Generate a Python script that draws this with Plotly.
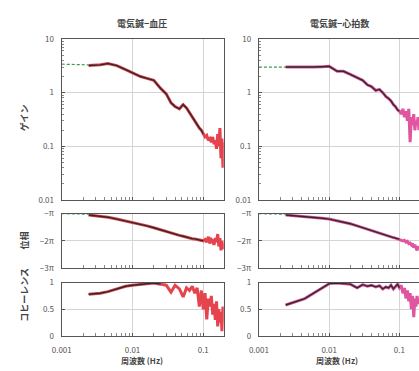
import plotly.graph_objects as go
import math

# ---------------- data ----------------
freq = [0.0024, 0.0035, 0.0045, 0.006, 0.008, 0.01, 0.013, 0.016, 0.02, 0.025,
        0.03, 0.035, 0.04, 0.046, 0.052, 0.058, 0.064, 0.07, 0.076, 0.082,
        0.088, 0.094, 0.1, 0.106, 0.112, 0.118, 0.124, 0.13, 0.136, 0.142,
        0.148, 0.154, 0.16, 0.166, 0.172, 0.178, 0.184, 0.19, 0.195]

bp_gain = [3.2, 3.3, 3.5, 3.2, 2.7, 2.35, 2.0, 1.85, 1.7, 1.2,
           0.95, 0.65, 0.55, 0.5, 0.6, 0.52, 0.42, 0.36, 0.3, 0.25,
           0.22, 0.2, 0.17, 0.15, 0.16, 0.13, 0.14, 0.12, 0.15, 0.11,
           0.13, 0.09, 0.17, 0.1, 0.22, 0.06, 0.14, 0.04, 0.12]
bp_phase = [-1.05, -1.1, -1.13, -1.2, -1.27, -1.32, -1.38, -1.45, -1.52, -1.6,
            -1.67, -1.72, -1.76, -1.8, -1.83, -1.87, -1.9, -1.92, -1.93, -1.95,
            -1.97, -1.98, -2.0, -1.95, -2.05, -1.85, -2.1, -1.95, -2.0, -2.15,
            -1.9, -2.05, -1.75, -2.2, -1.9, -2.35, -2.0, -2.3, -2.1]
bp_coh = [0.78, 0.8, 0.83, 0.88, 0.93, 0.95, 0.97, 0.98, 0.99, 0.97,
          0.95, 0.82, 0.95, 0.88, 0.73, 0.9, 0.85, 0.93, 0.8, 0.9,
          0.55, 0.85, 0.5, 0.8, 0.31, 0.7, 0.55, 0.75, 0.4, 0.6,
          0.3, 0.65, 0.18, 0.5, 0.25, 0.45, 0.09, 0.55, 0.35]

hr_gain = [3.0, 3.0, 2.95, 3.0, 3.05, 3.1, 2.5, 2.5, 2.2, 1.9,
           1.7, 1.4, 1.3, 1.1, 1.15, 1.0, 0.85, 0.78, 0.7, 0.6,
           0.55, 0.48, 0.45, 0.4, 0.5, 0.35, 0.45, 0.3, 0.5, 0.12,
           0.35, 0.25, 0.4, 0.2, 0.3, 0.25, 0.35, 0.2, 0.3]
hr_phase = [-1.05, -1.08, -1.1, -1.13, -1.17, -1.2, -1.26, -1.3, -1.37, -1.45,
            -1.52, -1.58, -1.62, -1.67, -1.71, -1.75, -1.79, -1.82, -1.85, -1.88,
            -1.9, -1.92, -1.94, -1.97, -2.0, -1.98, -2.05, -2.02, -2.1, -2.08,
            -2.15, -2.1, -2.25, -2.15, -2.3, -2.35, -2.2, -2.3, -2.25]
hr_coh = [0.58, 0.65, 0.7, 0.8, 0.9, 0.98, 0.99, 0.98, 0.97, 0.9,
          0.96, 0.93, 0.95, 0.92, 0.94, 0.88, 0.92, 0.9, 0.95, 0.88,
          0.92, 0.97, 0.9, 0.95, 0.8, 0.9, 0.7, 0.85, 0.65, 0.8,
          0.5, 0.75, 0.35, 0.7, 0.55, 0.75, 0.6, 0.7, 0.65]

ext_freq = [0.001, 0.0024]
bp_gain_ext = [3.4, 3.3]
hr_gain_ext = [3.0, 3.0]
phase_ext = [-1.0, -1.02]

titles = ["電気鍼−血圧", "電気鍼−心拍数"]
ylabels = ["ゲイン", "位相", "コヒーレンス"]
xlabel = "周波数 (Hz)"
phase_ticks = [-1, -2, -3]
phase_labels = ["−π", "−2π", "−3π"]
minor_x = [0.002, 0.003, 0.004, 0.005, 0.006, 0.007, 0.008, 0.009,
           0.02, 0.03, 0.04, 0.05, 0.06, 0.07, 0.08, 0.09]
minor_gain = [0.02, 0.03, 0.04, 0.05, 0.06, 0.07, 0.08, 0.09,
              0.2, 0.3, 0.4, 0.5, 0.6, 0.7, 0.8, 0.9,
              2, 3, 4, 5, 6, 7, 8, 9]

# ---------------- figure ----------------
W, H = 419, 371
RED = "#e5444e"
PINK = "#e0559f"
BLACK = "#2e2a2a"
GREEN = "#3f9a46"
FRAME = "#555555"
GRID = "#d4d4d4"
TXT = "#555555"
FONT = "Noto Sans CJK JP"

fig = go.Figure()

def px_x(a, b):
    return [a / W, b / W]

def px_y(top, bot):
    return [1 - bot / H, 1 - top / H]

xdom = [px_x(53, 219), px_x(255, 419)]
xrng = [[-3, math.log10(0.195)], [-3, math.log10(0.19)]]
ydom = [px_y(34, 200), px_y(214, 270), px_y(285, 340)]

panels = [
    (bp_gain, bp_phase, bp_coh, RED, bp_gain_ext),
    (hr_gain, hr_phase, hr_coh, PINK, hr_gain_ext),
]

cut = freq.index(0.1) + 1
cut_coh = [freq.index(0.025) + 1, cut]

ax = 0
for p, (g, ph, co, col, gext) in enumerate(panels):
    for r, vals in enumerate([g, ph, co]):
        ax += 1
        xa = "x" if ax == 1 else f"x{ax}"
        ya = "y" if ax == 1 else f"y{ax}"
        if r in (0, 1):
            fig.add_trace(go.Scatter(x=ext_freq, y=gext if r == 0 else phase_ext,
                                     mode="lines",
                                     line=dict(color=GREEN, width=1.2, dash="3px,2px"),
                                     xaxis=xa, yaxis=ya, showlegend=False))
        fig.add_trace(go.Scatter(x=freq, y=vals, mode="lines",
                                 line=dict(color=col, width=3),
                                 xaxis=xa, yaxis=ya, showlegend=False))
        n = cut_coh[p] if r == 2 else cut
        fig.add_trace(go.Scatter(x=freq[:n], y=vals[:n], mode="lines",
                                 line=dict(color=BLACK, width=1.4),
                                 xaxis=xa, yaxis=ya, showlegend=False))

        xkey = "xaxis" if ax == 1 else f"xaxis{ax}"
        ykey = "yaxis" if ax == 1 else f"yaxis{ax}"
        xd = dict(type="log", domain=xdom[p], range=xrng[p], anchor=ya,
                  showline=True, linecolor=FRAME, linewidth=1.3, mirror=True,
                  showgrid=True, gridcolor=GRID, gridwidth=1,
                  tickvals=[0.001, 0.01, 0.1],
                  ticks="inside", ticklen=3, tickcolor=FRAME,
                  minor=dict(tickvals=minor_x, ticks="inside", ticklen=3,
                             tickcolor="#888888", showgrid=False),
                  zeroline=False, fixedrange=True)
        if r == 2:
            xd.update(ticktext=["0.001", "0.01", "0.1"], showticklabels=True,
                      ticklabelstandoff=6,
                      tickfont=dict(size=8, color=TXT, family=FONT))
        else:
            xd.update(showticklabels=False)
        yd = dict(domain=ydom[r], anchor=xa, showline=True, linecolor=FRAME,
                  linewidth=1.3, mirror=(p == 0), showgrid=True, gridcolor=GRID,
                  ticks="inside", ticklen=3, tickcolor=FRAME,
                  ticklabelstandoff=5,
                  tickfont=dict(size=8, color=TXT, family=FONT),
                  zeroline=False, fixedrange=True)
        if r == 0:
            yd.update(type="log", range=[-2, 1], tickvals=[0.01, 0.1, 1, 10],
                      ticktext=["0.01", "0.1", "1", "10"],
                      minor=dict(tickvals=minor_gain, ticks="inside", ticklen=2,
                                 tickcolor="#888888", showgrid=False))
        elif r == 1:
            yd.update(range=[-3, -1], tickvals=phase_ticks, ticktext=phase_labels)
        else:
            yd.update(range=[0, 1], tickvals=[0, 0.5, 1], ticktext=["0", "0.5", "1"])
        fig.layout[xkey] = xd
        fig.layout[ykey] = yd

annots = []
title_x = [135, 338]
xlab_x = [135, 335]
for p in range(2):
    annots.append(dict(text="<b>" + titles[p] + "</b>", x=title_x[p] / W,
                       y=1 - 18 / H, xref="paper", yref="paper", showarrow=False,
                       xanchor="center", yanchor="middle",
                       font=dict(size=9, color="#444444", family=FONT)))
    annots.append(dict(text="<b>" + xlabel + "</b>", x=xlab_x[p] / W,
                       y=1 - 365 / H, xref="paper", yref="paper", showarrow=False,
                       xanchor="center", yanchor="middle",
                       font=dict(size=8, color="#444444", family=FONT)))
for label, yc in zip(ylabels, [115, 242, 298]):
    annots.append(dict(text="<b>" + label + "</b>", x=15 / W, y=1 - yc / H,
                       xref="paper", yref="paper", showarrow=False, textangle=-90,
                       xanchor="center", yanchor="middle",
                       font=dict(size=9, color="#444444", family=FONT)))

fig.update_layout(width=W, height=H, margin=dict(l=0, r=0, t=0, b=0),
                  paper_bgcolor="white", plot_bgcolor="white",
                  annotations=annots, showlegend=False)

fig.write_html("out.html")
